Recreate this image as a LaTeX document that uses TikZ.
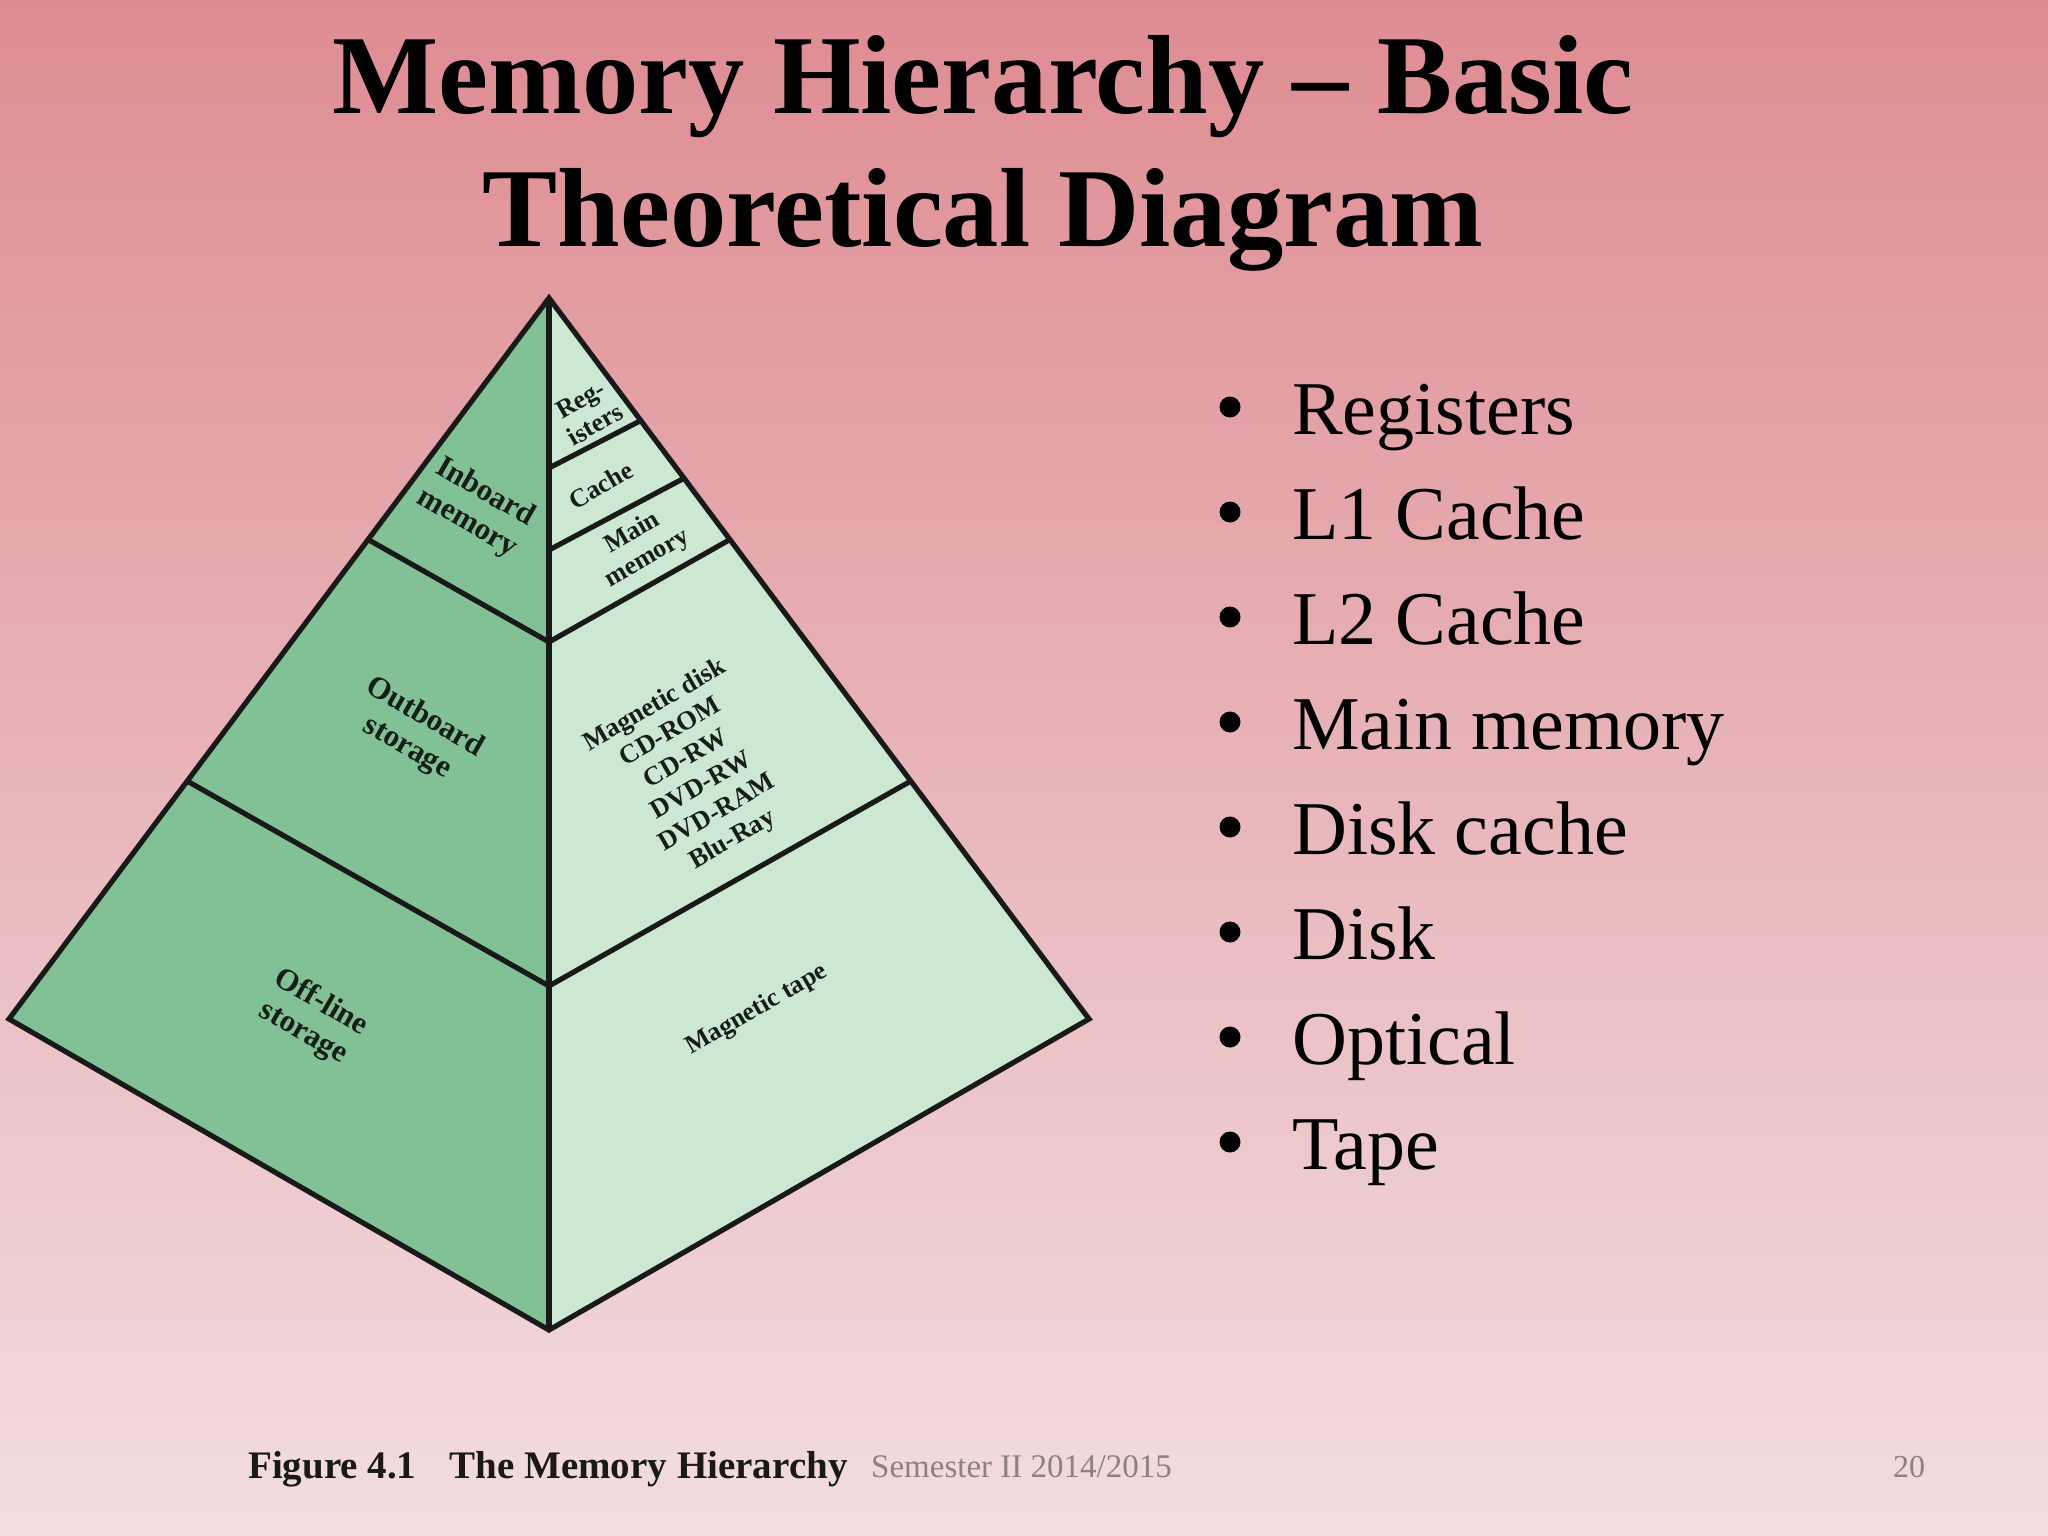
\documentclass[tikz,border=0pt]{standalone}
\usepackage{fontspec}
\setmainfont{Liberation Serif}
\usetikzlibrary{calc}
\definecolor{bgtop}{RGB}{222,140,146}
\definecolor{bgmid}{RGB}{232,184,191}
\definecolor{bgbot}{RGB}{242,221,224}
\definecolor{leftgreen}{RGB}{130,193,150}
\definecolor{rightgreen}{RGB}{204,232,211}
\definecolor{labelink}{RGB}{22,30,24}
\definecolor{footgrey}{RGB}{140,128,130}
\tikzset{
  edge/.style={line width=5.2pt, line join=miter, draw=black!90},
  facelabel/.style={inner sep=0pt, align=center, text=labelink, font=\fontsize{26}{29}\selectfont\bfseries},
  biglabel/.style={inner sep=0pt, align=center, text=labelink, font=\fontsize{31}{35}\selectfont\bfseries},
  titletext/.style={inner sep=0pt, anchor=base, font=\fontsize{112.5}{120}\selectfont\bfseries},
  itemtext/.style={inner sep=0pt, anchor=base west, font=\fontsize{76}{80}\selectfont},
  bulletdot/.style={circle, fill=black, inner sep=0pt, minimum size=21pt},
}
\begin{document}
\begin{tikzpicture}[x=1pt,y=-1pt]
\useasboundingbox (0,0) rectangle (2048,1536);
\shade[top color=bgtop, middle color=bgmid, bottom color=bgbot] (0,0) rectangle (2048,1536);

% title
\node[titletext] (t1) at (983,114) {Memory Hierarchy – Basic};
\node[titletext] (t2) at (983,246) {Theoretical Diagram};

% pyramid geometry
\coordinate (A) at (549,298);
\coordinate (L) at (9,1019);
\coordinate (R) at (1089,1019);
\coordinate (B) at (549,1330);
\coordinate (r1) at ($(A)!0.170!(R)$);
\coordinate (r2) at ($(A)!0.250!(R)$);
\coordinate (r3) at ($(A)!0.335!(R)$);
\coordinate (r4) at ($(A)!0.670!(R)$);
\coordinate (l3) at ($(A)!0.335!(L)$);
\coordinate (l4) at ($(A)!0.670!(L)$);
\coordinate (c1) at (549,468);
\coordinate (c2) at (549,550);
\coordinate (c3) at (549,642);
\coordinate (c4) at (549,986);

\fill[leftgreen] (A) -- (L) -- (B) -- cycle;
\fill[rightgreen] (A) -- (R) -- (B) -- cycle;
\draw[edge] (A) -- (L) -- (B) -- (R) -- cycle;
\draw[edge] (A) -- (B);
\draw[edge] (c1) -- (r1);
\draw[edge] (c2) -- (r2);
\draw[edge] (l3) -- (c3) -- (r3);
\draw[edge] (l4) -- (c4) -- (r4);

% face labels
\node[biglabel, rotate=-30] (inboard) at (476,508) {Inboard\\memory};
\node[biglabel, rotate=-30] (outboard) at (416,733) {Outboard\\storage};
\node[biglabel, rotate=-30] (offline) at (312,1018) {Off-line\\storage};
\node[facelabel, rotate=30] (regs) at (588,412) {Reg-\\isters};
\node[facelabel, rotate=30] (cache) at (601,485) {Cache};
\node[facelabel, rotate=30] (mainmem) at (640,546) {Main\\memory};
\node[facelabel, rotate=30, font=\fontsize{26.5}{31}\selectfont\bfseries] (disks) at (694,773) {Magnetic disk\\CD-ROM\\CD-RW\\DVD-RW\\DVD-RAM\\Blu-Ray};
\node[facelabel, rotate=30] (tape) at (757,1010) {Magnetic tape};

% bullet list
\foreach \name/\txt/\yb in {i1/Registers/434, i2/L1 Cache/539, i3/L2 Cache/644, i4/Main memory/749, i5/Disk cache/854, i6/Disk/959, i7/Optical/1064, i8/Tape/1169}{
  \node[bulletdot] (\name b) at (1230,\yb-27) {};
  \node[itemtext] (\name) at (1292,\yb) {\txt};
}

% footer
\node[inner sep=0pt, anchor=base west, font=\fontsize{39}{41}\selectfont\bfseries, text=black!90] (fig) at (248,1478) {Figure 4.1\hspace{0.6em} The Memory Hierarchy};
\node[inner sep=0pt, anchor=base west, font=\fontsize{33}{35}\selectfont, text=footgrey] (sem) at (871,1477) {Semester II 2014/2015};
\node[inner sep=0pt, anchor=base, font=\fontsize{32}{34}\selectfont, text=footgrey] (pg) at (1909,1477) {20};
\end{tikzpicture}
\end{document}
